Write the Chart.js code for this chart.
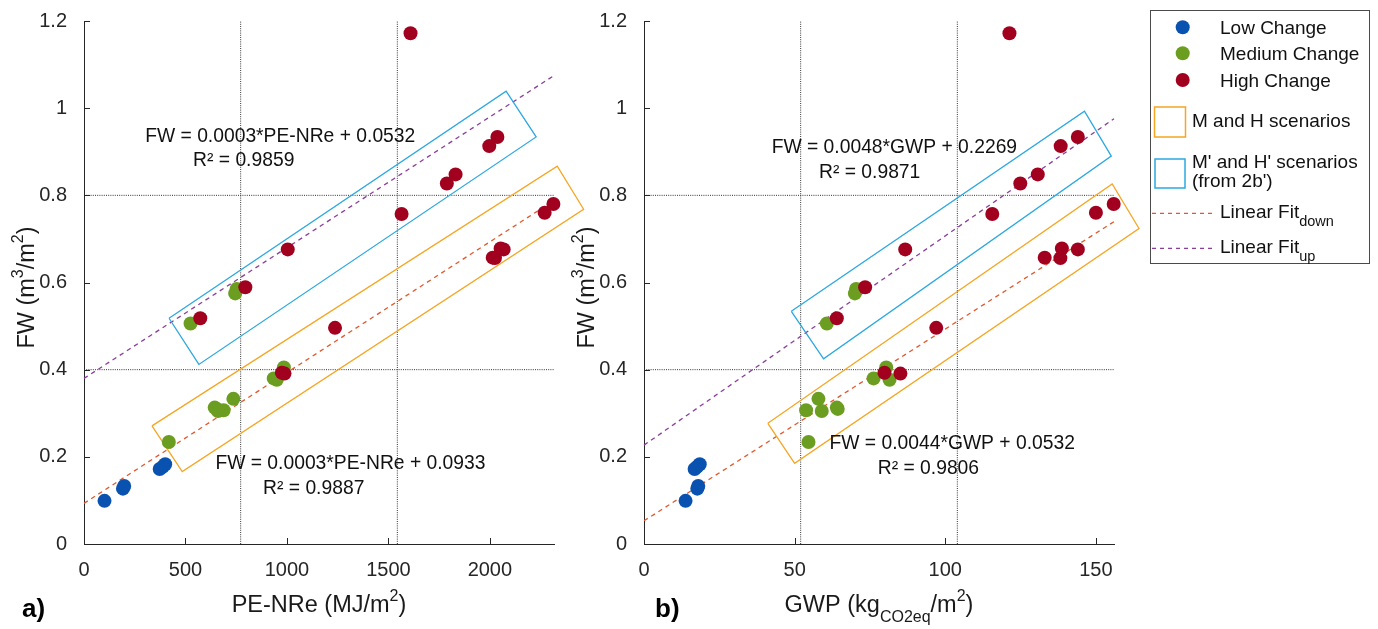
<!DOCTYPE html>
<html>
<head>
<meta charset="utf-8">
<title>FW vs PE-NRe and GWP</title>
<script src="https://cdn.jsdelivr.net/npm/chart.js@4.4.1/dist/chart.umd.min.js"></script>
<style>
  html, body { margin: 0; padding: 0; background: #fff; }
  #wrap { position: relative; width: 1378px; height: 629px; overflow: hidden; }
  #wrap canvas { position: absolute; top: 0; }
  #cA { left: 0; }
  #cB { left: 560px; }
  #legend { position: absolute; left: 1150px; top: 10px; font-family: 'Liberation Sans', Arial, Helvetica, sans-serif; }
</style>
</head>
<body>
<div id="wrap">
  <canvas id="cA" width="620" height="629"></canvas>
  <canvas id="cB" width="620" height="629"></canvas>
  <svg id="legend" width="220" height="254" xmlns="http://www.w3.org/2000/svg">
    <rect x="0.5" y="0.5" width="219" height="253" fill="#fff" stroke="#4a4a4a" stroke-width="1"/>
    <circle cx="32.7" cy="17.3" r="7" fill="#0a52b0"/>
    <circle cx="32.7" cy="43.3" r="7" fill="#6b9d20"/>
    <circle cx="32.7" cy="70" r="7" fill="#a1001f"/>
    <g font-size="19" fill="#111" dominant-baseline="central">
      <text x="70" y="17.3">Low Change</text>
      <text x="70" y="43.3">Medium Change</text>
      <text x="70" y="70">High Change</text>
      <text x="42" y="110.7">M and H scenarios</text>
      <text x="42" y="151.7">M' and H' scenarios</text>
      <text x="42" y="170">(from 2b')</text>
      <text x="70" y="201.7">Linear Fit<tspan font-size="14.5" dy="9">down</tspan></text>
      <text x="70" y="236.7">Linear Fit<tspan font-size="14.5" dy="9">up</tspan></text>
    </g>
    <rect x="4.5" y="97" width="31" height="30" fill="none" stroke="#f5a623" stroke-width="1.5"/>
    <rect x="5" y="149" width="30" height="29" fill="none" stroke="#2ba8e0" stroke-width="1.5"/>
    <line x1="2" y1="203.3" x2="62" y2="203.3" stroke="#e0582e" stroke-width="1.3" stroke-dasharray="4 4"/>
    <line x1="2" y1="238.3" x2="62" y2="238.3" stroke="#8a3d9c" stroke-width="1.3" stroke-dasharray="4 4"/>
  </svg>
</div>
<script>
// ---- scenario results ----
// Low change scenarios
const lowFW  = [0.183, 0.177, 0.172, 0.133, 0.127, 0.099];
const lowPE  = [400, 388, 373, 198, 192, 101];
const lowGWP = [18.5, 17.6, 16.8, 18.0, 17.7, 13.8];

// Medium change scenarios
const medFW  = [0.585, 0.575, 0.506, 0.405, 0.380, 0.377, 0.333, 0.313, 0.310, 0.307, 0.305, 0.234];
const medPE  = [752, 745, 525, 985, 935, 950, 736, 644, 655, 688, 660, 418];
const medGWP = [70.4, 70.0, 60.7, 80.4, 76.2, 81.5, 57.9, 64.0, 64.3, 53.8, 59.0, 54.6];

// High change scenarios
const highFW  = [1.172, 0.934, 0.913, 0.848, 0.827, 0.780, 0.760, 0.757, 0.678, 0.676, 0.676, 0.657, 0.656, 0.589, 0.518, 0.496, 0.393, 0.391];
const highPE  = [1609, 2037, 1997, 1831, 1788, 2313, 2270, 1565, 2053, 2068, 1004, 2014, 2025, 795, 573, 1237, 975, 988];
const highGWP = [121.3, 144.0, 138.3, 130.7, 124.9, 155.9, 150.0, 115.6, 138.7, 144.0, 86.7, 133.0, 138.2, 73.4, 64.0, 97.0, 79.8, 85.1];

// ---- axes ----
const fwTicks = [0, 0.2, 0.4, 0.6, 0.8, 1, 1.2];
const fwTickLabels = ['0', '0.2', '0.4', '0.6', '0.8', '1', '1.2'];
const peTicks = [0, 500, 1000, 1500, 2000];
const peTickLabels = ['0', '500', '1000', '1500', '2000'];
const gwpTicks = [0, 50, 100, 150];
const gwpTickLabels = ['0', '50', '100', '150'];
const fwMax = 1.2, peMax = 2316, gwpMax = 156;

// dotted reference lines (thirds of each range)
const fwRefY = [0.4, 0.8];
const peRefX = [772, 1544];
const gwpRefX = [52, 104];

// linear fits: [slope, intercept]
const peFitDown = [0.0003, 0.0933];
const peFitUp = [0.0003, 0.380];
const gwpFitDown = [0.0044, 0.0532];
const gwpFitUp = [0.0048, 0.2269];

// scenario envelopes (corner points)
const peBoxMHx = [335, 2332, 2462, 484];
const peBoxMHy = [0.271, 0.867, 0.768, 0.166];
const peBoxPrimeX = [419, 2080, 2228, 566];
const peBoxPrimeY = [0.518, 1.039, 0.934, 0.412];
const gwpBoxMHx = [41.1, 155.4, 164.3, 50.0];
const gwpBoxMHy = [0.277, 0.826, 0.724, 0.185];
const gwpBoxPrimeX = [48.9, 146.2, 155.1, 59.6];
const gwpBoxPrimeY = [0.534, 0.993, 0.890, 0.425];

// fit equation labels
const peEqText = ['FW = 0.0003*PE-NRe + 0.0532', 'R\u00B2 = 0.9859', 'FW = 0.0003*PE-NRe + 0.0933', 'R\u00B2 = 0.9887'];
const peEqX = [967, 787, 1313, 1132];
const peEqY = [0.934, 0.879, 0.185, 0.128];
const gwpEqText = ['FW = 0.0048*GWP + 0.2269', 'R\u00B2 = 0.9871', 'FW = 0.0044*GWP + 0.0532', 'R\u00B2 = 0.9806'];
const gwpEqX = [83.1, 74.9, 102.3, 94.4];
const gwpEqY = [0.909, 0.852, 0.230, 0.172];

// ---- styling ----
const FONT = "'Liberation Sans', Arial, Helvetica, sans-serif";
const AXIS = '#262626';
const LOW_C = '#0a52b0', MED_C = '#6b9d20', HIGH_C = '#a1001f';
const BOX_MH = '#f5a623', BOX_PRIME = '#2ba8e0';
const FIT_DOWN = '#e0582e', FIT_UP = '#8a3d9c';

function pts(xs, ys) { return xs.map((x, i) => ({ x: x, y: ys[i] })); }
function closed(xs, ys) { const p = pts(xs, ys); p.push(p[0]); return p; }
function fitLine(f, xmax) { return [{ x: 0, y: f[1] }, { x: xmax, y: f[1] + f[0] * xmax }]; }

function scatterSet(xs, ys, color, order) {
  return { data: pts(xs, ys), showLine: false, pointRadius: 7, pointHoverRadius: 7,
           pointBorderWidth: 0, backgroundColor: color, borderColor: color, order: order, clip: false };
}
function lineSet(data, color, width, dash, order) {
  return { data: data, showLine: true, pointRadius: 0, pointHoverRadius: 0, borderColor: color,
           borderWidth: width, borderDash: dash, fill: false, tension: 0, order: order, clip: false };
}

// text with super/subscript pieces, centred on (cx, cy)
function drawRich(ctx, segs, cx, cy, size) {
  const small = Math.round(size * 0.7);
  let total = 0;
  segs.forEach(s => {
    ctx.font = (s.k ? small : size) + 'px ' + FONT;
    s.w = ctx.measureText(s.t).width;
    total += s.w;
  });
  let x = cx - total / 2;
  ctx.textAlign = 'left';
  ctx.textBaseline = 'middle';
  segs.forEach(s => {
    ctx.font = (s.k ? small : size) + 'px ' + FONT;
    const dy = s.k === 'sup' ? -size * 0.40 : (s.k === 'sub' ? size * 0.48 : 0);
    ctx.fillText(s.t, x, cy + dy);
    x += s.w;
  });
}

function buildChart(id, o) {
  const datasets = [
    scatterSet(o.highX, highFW, HIGH_C, 0),
    scatterSet(o.medX, medFW, MED_C, 1),
    scatterSet(o.lowX, lowFW, LOW_C, 2),
    lineSet(closed(o.boxPrimeX, o.boxPrimeY), BOX_PRIME, 1.3, [], 3),
    lineSet(closed(o.boxMHx, o.boxMHy), BOX_MH, 1.3, [], 3),
    lineSet(fitLine(o.fitUp, o.xmax), FIT_UP, 1.3, [4.5, 4], 4),
    lineSet(fitLine(o.fitDown, o.xmax), FIT_DOWN, 1.3, [4.5, 4], 4)
  ];
  o.refX.forEach(v => datasets.push(lineSet([{ x: v, y: 0 }, { x: v, y: fwMax }], '#333', 1, [1, 1.2], 5)));
  fwRefY.forEach(v => datasets.push(lineSet([{ x: 0, y: v }, { x: o.xmax, y: v }], '#333', 1, [1, 1.2], 5)));

  const decor = {
    id: 'decor',
    afterDraw(chart) {
      const ctx = chart.ctx, a = chart.chartArea;
      const xs = chart.scales.x, ys = chart.scales.y;
      ctx.save();
      // inward tick marks
      ctx.strokeStyle = AXIS;
      ctx.lineWidth = 1;
      ctx.beginPath();
      o.xTicks.forEach(v => {
        const px = Math.round(xs.getPixelForValue(v)) + 0.5;
        ctx.moveTo(px, a.bottom); ctx.lineTo(px, a.bottom - 6);
      });
      fwTicks.forEach(v => {
        const py = Math.round(ys.getPixelForValue(v)) + 0.5;
        ctx.moveTo(a.left, py); ctx.lineTo(a.left + 6, py);
      });
      ctx.stroke();
      // fit equations
      ctx.fillStyle = '#111';
      ctx.font = '19.3px ' + FONT;
      ctx.textAlign = 'center';
      ctx.textBaseline = 'middle';
      o.eqText.forEach((t, i) => {
        ctx.fillText(t, xs.getPixelForValue(o.eqX[i]), ys.getPixelForValue(o.eqY[i]));
      });
      // axis titles
      ctx.fillStyle = '#1a1a1a';
      drawRich(ctx, o.xTitle, (a.left + a.right) / 2, 606, 23.5);
      ctx.save();
      ctx.translate(27.5, (a.top + a.bottom) / 2 + 5);
      ctx.rotate(-Math.PI / 2);
      drawRich(ctx, [{ t: 'FW (m' }, { t: '3', k: 'sup' }, { t: '/m' }, { t: '2', k: 'sup' }, { t: ')' }], 0, 0, 23.5);
      ctx.restore();
      // panel letter
      ctx.fillStyle = '#000';
      ctx.font = 'bold 26px ' + FONT;
      ctx.textAlign = 'left';
      ctx.textBaseline = 'middle';
      ctx.fillText(o.letter, o.letterX, 610);
      ctx.restore();
    }
  };

  const tickFont = { family: FONT, size: 20 };
  return new Chart(document.getElementById(id), {
    type: 'scatter',
    data: { datasets: datasets },
    options: {
      responsive: false,
      animation: false,
      devicePixelRatio: 1,
      layout: { padding: { left: 0, right: 66, top: 18, bottom: 0 } },
      plugins: { legend: { display: false }, tooltip: { enabled: false } },
      events: [],
      scales: {
        x: {
          type: 'linear', min: 0, max: o.xmax,
          afterBuildTicks: s => { s.ticks = o.xTicks.map(v => ({ value: v })); },
          afterFit: s => { s.height = 85; },
          grid: { display: false },
          border: { display: true, color: AXIS, width: 1 },
          ticks: { padding: 6, color: AXIS, font: tickFont, maxRotation: 0, autoSkip: false,
                   callback: (v, i) => o.xLabels[i] }
        },
        y: {
          type: 'linear', min: 0, max: fwMax,
          afterBuildTicks: s => { s.ticks = fwTicks.map(v => ({ value: v })); },
          afterFit: s => { s.width = 84; },
          grid: { display: false },
          border: { display: true, color: AXIS, width: 1 },
          ticks: { padding: 9, color: AXIS, font: tickFont, autoSkip: false,
                   callback: (v, i) => fwTickLabels[i] }
        }
      }
    },
    plugins: [decor]
  });
}

buildChart('cA', {
  xmax: peMax, xTicks: peTicks, xLabels: peTickLabels, refX: peRefX,
  lowX: lowPE, medX: medPE, highX: highPE,
  fitDown: peFitDown, fitUp: peFitUp,
  boxMHx: peBoxMHx, boxMHy: peBoxMHy, boxPrimeX: peBoxPrimeX, boxPrimeY: peBoxPrimeY,
  eqText: peEqText, eqX: peEqX, eqY: peEqY,
  xTitle: [{ t: 'PE-NRe (MJ/m' }, { t: '2', k: 'sup' }, { t: ')' }],
  letter: 'a)', letterX: 22
});

buildChart('cB', {
  xmax: gwpMax, xTicks: gwpTicks, xLabels: gwpTickLabels, refX: gwpRefX,
  lowX: lowGWP, medX: medGWP, highX: highGWP,
  fitDown: gwpFitDown, fitUp: gwpFitUp,
  boxMHx: gwpBoxMHx, boxMHy: gwpBoxMHy, boxPrimeX: gwpBoxPrimeX, boxPrimeY: gwpBoxPrimeY,
  eqText: gwpEqText, eqX: gwpEqX, eqY: gwpEqY,
  xTitle: [{ t: 'GWP (kg' }, { t: 'CO2eq', k: 'sub' }, { t: '/m' }, { t: '2', k: 'sup' }, { t: ')' }],
  letter: 'b)', letterX: 95
});
</script>
</body>
</html>
